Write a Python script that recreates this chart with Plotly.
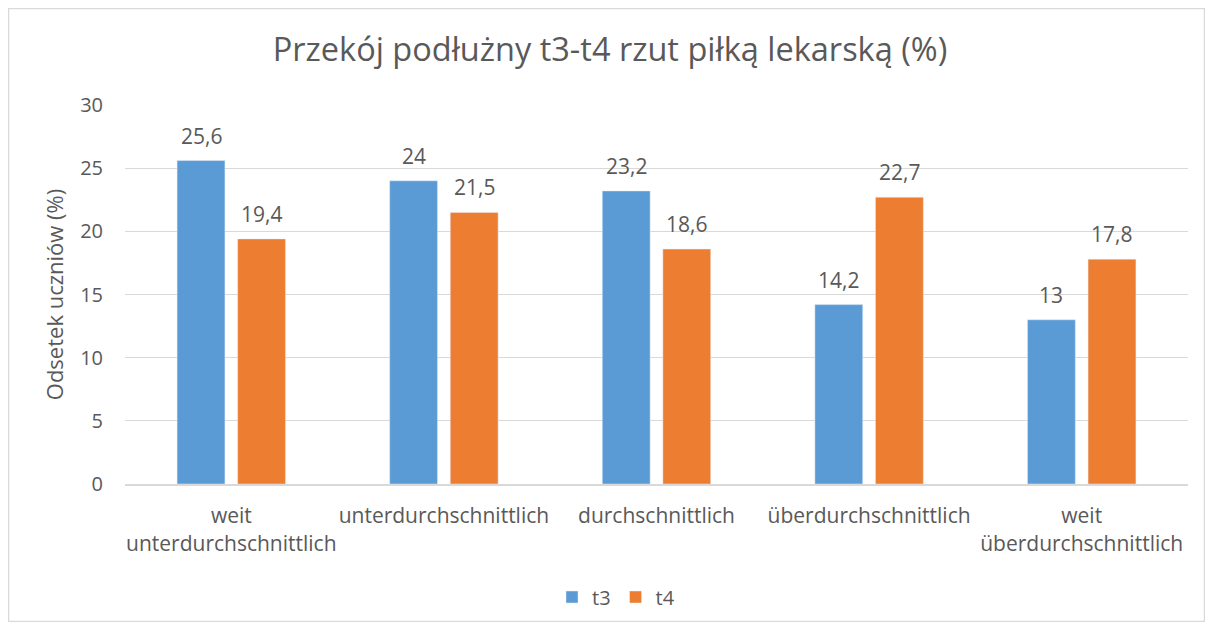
import plotly.graph_objects as go

categories = ["weit<br>unterdurchschnittlich", "unterdurchschnittlich", "durchschnittlich",
              "überdurchschnittlich", "weit<br>überdurchschnittlich"]
t3 = [25.6, 24, 23.2, 14.2, 13]
t4 = [19.4, 21.5, 18.6, 22.7, 17.8]
y_ticks = [0, 5, 10, 15, 20, 25, 30]

def fmt(v):
    return ("%g" % v).replace(".", ",")

FONT = "Open Sans"
TXT = "#595959"

# page has an 8px body margin: figure coords = reference coords - 8
W, H = 1197, 614
L, T = 117, 97
pw, ph = 1063, 379
R = W - L - pw
B = H - T - ph

BARGAP = 0.43
slot = pw / len(categories) * (1 - BARGAP) / 2

fig = go.Figure()
fig.add_trace(go.Bar(name="t3", x=categories, y=t3, marker_color="#5B9BD5"))
fig.add_trace(go.Bar(name="t4", x=categories, y=t4, marker_color="#ED7D31"))

annotations = []
for vals, shift in ((t3, -slot / 2), (t4, slot / 2)):
    for c, v in zip(categories, vals):
        annotations.append(dict(x=c, y=v, xref="x", yref="y", text=fmt(v),
                                showarrow=False, xshift=shift, yshift=25,
                                yanchor="middle", xanchor="center",
                                font=dict(size=21, color=TXT, family=FONT)))

fig.update_layout(
    width=W, height=H,
    margin=dict(l=L, r=R, t=T, b=B, autoexpand=False),
    paper_bgcolor="white", plot_bgcolor="white",
    font=dict(family=FONT, color=TXT, size=20),
    title=dict(text="Przekój podłużny t3-t4 rzut piłką lekarską (%)",
               x=602 / W, xanchor="center", y=1 - 42 / H, yanchor="middle",
               yref="container", xref="container",
               font=dict(size=32.5, color=TXT, family=FONT)),
    barmode="group", bargap=BARGAP, bargroupgap=0.21,
    legend=dict(orientation="h", x=(608 - L) / pw, xanchor="center",
                y=(T + ph - 589) / ph, yanchor="middle",
                font=dict(size=20, color=TXT, family=FONT),
                itemwidth=30, traceorder="normal"),
    showlegend=True,
    annotations=annotations,
    shapes=[dict(type="rect", xref="paper", yref="paper",
                 x0=(0.5 - L) / pw, x1=(W - 0.5 - L) / pw,
                 y0=(T + ph - (H - 0.5)) / ph, y1=(T + ph - 0.5) / ph,
                 line=dict(color="#D9D9D9", width=1.5), layer="below")],
)
fig.update_yaxes(range=[0, 30], tickvals=y_ticks, showgrid=True, gridcolor="#D9D9D9",
                 gridwidth=1, zeroline=False, showline=False, automargin=False,
                 ticklabelstandoff=21,
                 tickfont=dict(size=20, color=TXT, family=FONT),
                 title=dict(text="Odsetek uczniów (%)", standoff=10,
                            font=dict(size=22, color=TXT, family=FONT)))
fig.update_xaxes(showline=True, linecolor="#D9D9D9", linewidth=2, ticks="",
                 automargin=False, ticklabelstandoff=12,
                 tickfont=dict(size=21, color=TXT, family=FONT))

fig.write_html("out.html")
